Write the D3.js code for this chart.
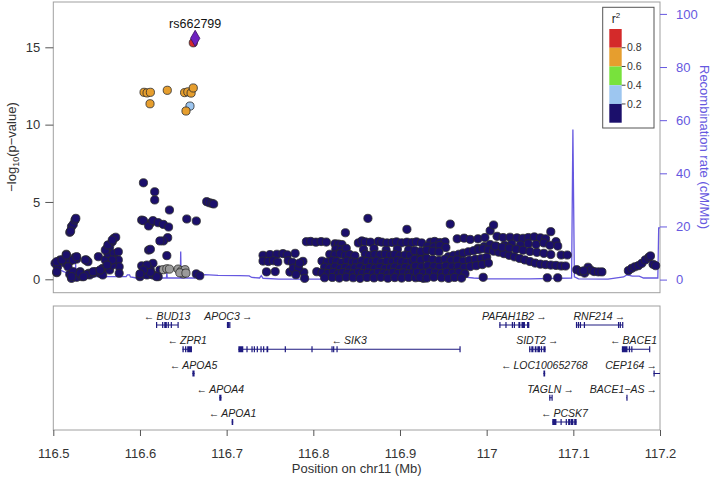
<!DOCTYPE html>
<html><head><meta charset="utf-8">
<script src="https://cdn.jsdelivr.net/npm/d3@7"></script>
<style>body{margin:0;background:#fff} svg{display:block;font-family:"Liberation Sans",Arial,Helvetica,sans-serif}</style>
</head><body><svg id="c" width="712" height="479"></svg>
<script>
// ---------- DATA ----------
const xDomain = [116.5, 117.2];
const xTicks = [116.5, 116.6, 116.7, 116.8, 116.9, 117.0, 117.1, 117.2];
const yTicks = [0, 5, 10, 15];
const recombTicks = [0, 20, 40, 60, 80, 100];
const r2Breaks = [1.0, 0.8, 0.6, 0.4, 0.2, 0.0];
const r2Colors = ["#D42A2A", "#E69E2E", "#78E23C", "#9DC6F0", "#1B0F6B"];
const r2TickLabels = [0.8, 0.6, 0.4, 0.2];

const leadName = "rs662799";
const leadPos = 116.6637;
const leadLogP = 15.58;

const redSnps = [[116.6615, 15.29]];
const orangeSnps = [[116.6047, 12.09], [116.6082, 12.05], [116.6120, 12.09], [116.6116, 11.35], [116.6315, 12.22],
  [116.6515, 12.07], [116.6552, 12.12], [116.6590, 12.04], [116.6615, 12.37], [116.6531, 10.88]];
const lightBlueSnps = [[116.6577, 11.20]];
const graySnps = [[116.627, 0.62], [116.631, 0.68], [116.634, 0.66], [116.644, 0.66], [116.648, 0.55],
  [116.652, 0.62], [116.650, 0.35], [116.646, 0.42], [116.653, 0.40]];
const navySnps = [
  // left cluster
  [116.502,1.03],[116.505,0.81],[116.504,0.43],[116.508,1.25],[116.514,1.03],[116.515,1.62],[116.519,1.16],[116.519,0.32],
  [116.521,0.06],[116.525,1.42],[116.527,1.31],[116.527,0.13],[116.531,0.49],[116.533,0.17],[116.538,1.25],[116.540,1.14],
  [116.541,0.39],[116.542,0.28],[116.546,0.39],[116.549,0.49],[116.552,1.46],[116.554,0.39],[116.557,0.71],[116.560,1.25],
  [116.562,2.00],[116.563,1.68],[116.565,2.11],[116.568,2.43],[116.570,2.65],[116.572,2.72],[116.570,1.68],[116.572,1.25],
  [116.575,1.78],[116.575,1.25],[116.576,0.81],[116.576,0.39],[116.562,0.81],[116.565,0.60],[116.557,0.28],[116.568,0.92],
  [116.519,3.04],[116.521,3.40],[116.523,3.55],[116.525,3.83],[116.526,3.94],[116.520,3.12],
  [116.504,1.14],[116.510,1.25],[116.515,1.57],[116.523,1.25],[116.527,1.46],[116.537,1.25],[116.517,0.81],[116.523,0.49],
  [116.531,0.39],[116.539,0.32],[116.546,0.49],[116.554,0.60],[116.560,1.89],[116.563,2.22],[116.568,2.54],[116.568,1.25],
  [116.562,0.92],[116.535,0.17],[116.504,0.49],[116.521,0.17],
  // around the peak
  [116.604,6.24],[116.602,3.83],[116.612,3.62],[116.617,5.66],[116.617,5.13],[116.634,4.48],[116.604,3.79],[116.610,3.45],
  [116.615,3.79],[116.621,3.66],[116.627,3.55],[116.633,3.38],[116.654,3.90],[116.665,3.77],[116.632,2.69],[116.627,2.48],
  [116.623,2.48],[116.610,1.89],[116.612,1.94],[116.631,1.53],[116.615,1.03],[116.612,0.60],[116.602,0.87],[116.608,0.92],
  [116.600,0.17],[116.608,0.28],[116.615,0.28],[116.621,0.17],[116.623,0.60],[116.619,0.17],[116.665,0.35],[116.669,0.23],
  [116.677,5.02],[116.680,4.95],[116.683,4.91],[116.685,4.87],[116.612,0.45],[116.604,0.60],[116.600,0.35],
  // middle, left group
  [116.742,1.55],[116.750,1.60],[116.758,1.62],[116.765,1.66],[116.770,1.58],[116.779,1.68],
  [116.742,1.18],[116.748,1.15],[116.754,1.20],[116.759,1.12],[116.771,1.20],[116.776,1.10],[116.788,1.16],
  [116.746,0.48],[116.756,0.50],[116.773,0.47],[116.781,0.52],[116.789,0.45],[116.790,0.06],[116.777,0.72],
  [116.783,0.75],[116.804,0.49],[116.784,1.05],[116.780,0.30],
  // middle, main block
  [116.837,3.01],[116.863,3.94],[116.908,3.23],
  [116.792,2.43],[116.797,2.45],[116.803,2.40],[116.809,2.44],[116.815,2.41],[116.825,2.30],[116.829,2.28],[116.833,2.25],
  [116.852,2.35],[116.856,2.48],[116.860,2.42],[116.866,2.40],[116.875,2.45],[116.879,2.40],[116.885,2.35],[116.891,2.38],
  [116.896,2.42],[116.902,2.36],[116.908,2.40],[116.914,2.38],[116.919,2.42],[116.925,2.35],
  [116.826,1.95],[116.832,1.90],[116.838,2.00],[116.858,1.92],[116.870,1.98],[116.884,1.88],[116.897,1.95],[116.910,1.90],
  [116.819,1.62],[116.825,1.58],[116.831,1.65],[116.837,1.55],[116.842,1.60],[116.848,1.52],[116.860,1.62],[116.865,1.55],
  [116.871,1.60],[116.877,1.58],[116.883,1.62],[116.889,1.56],[116.894,1.60],[116.900,1.52],[116.906,1.57],[116.912,1.55],
  [116.921,1.58],[116.928,1.62],
  [116.810,1.18],[116.816,1.12],[116.822,1.20],[116.827,1.15],[116.833,1.10],[116.839,1.18],[116.845,1.12],[116.850,1.08],
  [116.856,1.20],[116.862,1.15],[116.868,1.12],[116.873,1.18],[116.879,1.10],[116.885,1.16],[116.891,1.12],[116.897,1.20],
  [116.902,1.14],[116.908,1.10],[116.914,1.16],[116.923,1.22],
  [116.813,0.78],[116.819,0.72],[116.825,0.80],[116.831,0.70],[116.837,0.76],[116.842,0.68],[116.848,0.74],[116.854,0.80],
  [116.860,0.70],[116.865,0.76],[116.871,0.72],[116.877,0.78],[116.883,0.70],[116.889,0.74],[116.894,0.80],[116.900,0.72],
  [116.906,0.76],[116.912,0.70],[116.917,0.78],[116.923,0.74],
  [116.810,0.42],[116.817,0.38],[116.823,0.45],[116.829,0.36],[116.834,0.44],[116.840,0.40],[116.846,0.35],[116.852,0.46],
  [116.857,0.38],[116.863,0.42],[116.869,0.36],[116.875,0.44],[116.881,0.40],[116.886,0.35],[116.892,0.45],[116.898,0.38],
  [116.904,0.42],[116.910,0.36],[116.915,0.44],[116.921,0.40],[116.927,0.38],
  [116.813,0.10],[116.822,0.12],[116.830,0.08],[116.838,0.14],[116.846,0.10],[116.854,0.06],[116.862,0.12],[116.870,0.09],
  [116.878,0.13],[116.886,0.07],[116.894,0.11],[116.902,0.08],[116.910,0.12],[116.918,0.10],[116.927,0.06],
  // right block
  [116.958,3.57],[117.004,3.14],[117.008,3.51],[117.074,3.08],
  [116.935,2.40],[116.940,2.45],[116.946,2.38],[116.952,2.42],[116.966,2.62],[116.974,2.66],[116.981,2.58],[116.990,2.62],
  [116.998,2.70],[117.012,2.78],[117.019,2.70],[117.027,2.72],[117.035,2.68],[117.042,2.65],[117.048,2.70],[117.055,2.74],
  [117.062,2.68],[117.068,2.62],[117.080,2.43],[117.082,2.15],
  [116.932,2.15],[116.939,2.10],[116.946,2.18],[116.953,2.05],[116.990,2.00],[116.997,2.12],[117.004,2.25],[117.011,2.15],
  [117.021,2.20],[117.029,2.28],[117.039,2.22],[117.048,2.30],[117.057,2.25],[117.066,2.35],[117.073,2.20],
  [116.956,1.46],[116.962,1.55],[116.968,1.62],[116.973,1.70],[116.979,1.78],[116.985,1.85],[116.991,1.92],[116.996,1.98],
  [117.002,1.90],[117.008,1.82],[117.014,1.75],[117.020,1.66],[117.026,1.55],[117.032,1.45],[117.038,1.35],[117.044,1.25],
  [117.050,1.15],[117.056,1.05],[117.062,0.98],[117.068,0.95],[117.074,0.92],[117.080,0.90],[117.086,0.86],
  [117.010,2.15],[117.018,2.08],[117.026,2.02],[117.034,1.95],[117.042,1.88],[117.050,1.80],[117.058,1.74],[117.066,1.68],
  [117.074,1.60],[117.086,1.57],[117.093,1.57],[117.091,0.86],
  [116.917,1.85],[116.924,1.80],[116.931,1.88],[116.938,1.82],[116.945,1.78],
  [116.917,1.30],[116.924,1.25],[116.931,1.35],[116.938,1.28],[116.945,1.22],[116.952,1.30],[116.959,1.20],[116.966,1.26],
  [116.973,1.18],[116.980,1.24],[116.987,1.30],[116.994,1.36],[117.000,1.42],
  [116.918,0.85],[116.925,0.80],[116.932,0.88],[116.939,0.82],[116.946,0.78],[116.953,0.86],[116.960,0.80],[116.967,0.84],
  [116.974,0.76],[116.981,0.82],[116.988,0.88],[116.995,0.95],[117.002,1.05],
  [116.920,0.45],[116.927,0.40],[116.934,0.48],[116.941,0.42],[116.948,0.38],[116.954,0.46],[116.961,0.40],[116.968,0.44],
  [116.975,0.36],
  [116.923,0.12],[116.931,0.08],[116.939,0.14],[116.948,0.10],[116.956,0.06],[116.963,0.12],[116.971,0.08],
  [116.996,0.13],[117.070,0.10],[117.082,0.10],
  // beyond the recombination hotspot
  [117.104,0.62],[117.108,0.50],[117.113,0.40],[117.117,0.78],[117.120,0.60],[117.124,0.50],[117.129,0.48],[117.133,0.48],
  [117.112,0.55],
  [117.1635,0.56],[117.1674,0.71],[117.171,0.81],[117.175,0.88],[117.179,1.03],[117.183,1.25],[117.187,1.42],[117.189,1.51],
  [117.192,0.97],[117.195,0.88]
];

const recombRate = [
  [116.500,4.7],[116.505,4.0],[116.512,3.0],[116.519,2.2],[116.5255,1.8],[116.5258,6.0],[116.5262,1.2],[116.540,1.1],
  [116.584,1.1],[116.5855,1.8],[116.588,1.8],[116.589,1.0],[116.596,0.6],[116.6305,0.6],[116.631,2.5],[116.6315,0.6],
  [116.6465,0.6],[116.647,10.6],[116.6475,0.6],[116.667,0.6],[116.668,1.2],[116.675,1.9],[116.690,1.6],[116.715,1.5],
  [116.726,1.4],[116.729,0.8],[116.738,0.6],[116.740,1.5],[116.742,0.5],[116.760,0.2],[116.850,0.15],[116.930,0.3],
  [116.960,0.4],[116.975,0.9],[116.985,0.6],[117.000,0.3],[117.050,0.3],[117.098,0.6],[117.0995,56.5],[117.1012,1.0],
  [117.106,0.3],[117.140,0.15],[117.158,1.0],[117.162,1.8],[117.168,1.3],[117.176,1.3],[117.181,0.6],[117.1975,0.6],
  [117.1985,19.5],[117.2,19.5]
];

const genes = [
  {name:"BUD13", start:116.6185, end:116.644, strand:-1, row:0, exons:[[116.6185,116.6192],[116.6255,116.6265],[116.628,116.631],[116.632,116.633],[116.6355,116.6365],[116.6433,116.644]]},
  {name:"APOC3", start:116.7003, end:116.7035, strand:1, row:0, exons:[[116.7003,116.7009],[116.7016,116.7021],[116.703,116.7035]]},
  {name:"PAFAH1B2", start:117.0146, end:117.0492, strand:1, row:0, exons:[[117.0146,117.0152],[117.0216,117.0222],[117.029,117.0296],[117.0313,117.0319],[117.0366,117.0388],[117.0402,117.0442],[117.0466,117.0492]]},
  {name:"RNF214", start:117.103, end:117.157, strand:1, row:0, exons:[[117.103,117.1036],[117.1052,117.1058],[117.1075,117.1081],[117.1121,117.1127],[117.1515,117.1521],[117.1535,117.1545],[117.1563,117.157]]},
  {name:"ZPR1", start:116.649, end:116.660, strand:-1, row:1, exons:[[116.649,116.6505],[116.652,116.6535],[116.6545,116.660]]},
  {name:"SIK3", start:116.7135, end:116.9692, strand:-1, row:1, exons:[[116.7135,116.7192],[116.7228,116.7234],[116.7286,116.7292],[116.7313,116.7319],[116.7347,116.7353],[116.739,116.7396],[116.742,116.7426],[116.746,116.748],[116.767,116.7676],[116.7978,116.7984],[116.8209,116.8215],[116.8228,116.8234],[116.8267,116.8273],[116.9686,116.9692]]},
  {name:"SIDT2", start:117.049, end:117.068, strand:1, row:1, exons:[[117.049,117.0505],[117.0515,117.054],[117.0555,117.0575],[117.0585,117.0615],[117.0625,117.064],[117.0655,117.068]]},
  {name:"BACE1", start:117.156, end:117.188, strand:-1, row:1, exons:[[117.156,117.1625],[117.164,117.1655],[117.1668,117.1674],[117.1874,117.188]]},
  {name:"APOA5", start:116.6605, end:116.663, strand:-1, row:2, exons:[[116.6605,116.663]]},
  {name:"LOC100652768", start:117.0655, end:117.0675, strand:-1, row:2, exons:[[117.0655,117.0675]]},
  {name:"CEP164", start:117.1925, end:117.23, strand:1, row:2, exons:[[117.1925,117.1931]]},
  {name:"APOA4", start:116.6915, end:116.694, strand:-1, row:3, exons:[[116.6915,116.694]]},
  {name:"TAGLN", start:117.0722, end:117.0754, strand:1, row:3, exons:[[117.0722,117.0728],[117.0748,117.0754]]},
  {name:"BACE1\u2212AS", start:117.1612, end:117.162, strand:1, row:3, exons:[[117.1612,117.162]]},
  {name:"APOA1", start:116.7058, end:116.7076, strand:-1, row:4, exons:[[116.7058,116.7076]]},
  {name:"PCSK7", start:117.0757, end:117.1038, strand:-1, row:4, exons:[[117.0757,117.0805],[117.0852,117.0858],[117.0912,117.0918],[117.094,117.0965],[117.097,117.1],[117.101,117.1038]]}
];

// ---------- LAYOUT ----------
const svg = d3.select("#c");
const L = 53.3, R = 660, T = 2, B = 292.7;
const GT = 306, GB = 430;
const recombColor = "#6658E0";
const x = d3.scaleLinear().domain(xDomain).range([L, R]);
const y = d3.scaleLinear().domain([0, 15]).range([279.3, 47.3]);
const yr = d3.scaleLinear().domain([0, 100]).range([279.6, 13.9]);
const rowY = d3.scaleLinear().domain([0, 4]).range([325, 422]);

svg.append("defs").append("clipPath").attr("id","gclip")
  .append("rect").attr("x", L).attr("y", GT).attr("width", R - L).attr("height", GB - GT);
svg.select("defs").append("clipPath").attr("id","pclip")
  .append("rect").attr("x", L).attr("y", T).attr("width", R - L).attr("height", B - T);

// panel boxes
svg.append("rect").attr("x", L).attr("y", T).attr("width", R - L).attr("height", B - T)
  .attr("fill", "none").attr("stroke", "#a0a0a0").attr("stroke-width", 1);
svg.append("rect").attr("x", L).attr("y", GT).attr("width", R - L).attr("height", GB - GT)
  .attr("fill", "none").attr("stroke", "#a0a0a0").attr("stroke-width", 1);

// recombination line
svg.append("path").datum(recombRate).attr("clip-path","url(#pclip)")
  .attr("d", d3.line().x(d => x(d[0])).y(d => yr(d[1])))
  .attr("fill", "none").attr("stroke", recombColor).attr("stroke-width", 1.3);

// points
function drawPts(data, fill) {
  svg.append("g").selectAll("circle").data(data).join("circle")
    .attr("cx", d => x(d[0])).attr("cy", d => y(d[1])).attr("r", 4.1)
    .attr("fill", fill).attr("stroke", "#2b2b2b").attr("stroke-width", 0.8);
}
drawPts(navySnps, r2Colors[4]);
drawPts(graySnps, "#9a9a9a");
drawPts(lightBlueSnps, r2Colors[3]);
drawPts(orangeSnps, r2Colors[1]);
drawPts(redSnps, r2Colors[0]);
svg.append("path").attr("d", d3.symbol().type(d3.symbolDiamond).size(75)())
  .attr("transform", `translate(${x(leadPos)},${y(leadLogP)})`)
  .attr("fill", "#6E22C0").attr("stroke", "#3a1060").attr("stroke-width", 0.8);
svg.append("text").attr("x", x(leadPos)).attr("y", y(leadLogP) - 10).attr("text-anchor", "middle")
  .attr("font-size", 12.5).attr("fill", "#111").text(leadName);

// left axis
const ga = svg.append("g").attr("transform", `translate(${L},0)`)
  .call(d3.axisLeft(y).tickValues(yTicks).tickSize(8).tickPadding(5));
ga.select(".domain").remove();
ga.selectAll("line").attr("stroke", "#555");
ga.selectAll("text").attr("font-size", 13).attr("fill", "#333").attr("font-family", "Liberation Sans, Arial, sans-serif");
const yt = svg.append("text").attr("transform", "translate(16,147) rotate(-90)").attr("text-anchor", "middle")
  .attr("font-size", 13).attr("fill", "#333");
yt.append("tspan").text("\u2212log");
yt.append("tspan").attr("font-size", 9).attr("dy", 3).text("10");
yt.append("tspan").attr("dy", -3).text("(p\u2212value)");

// right axis
const gr = svg.append("g").attr("transform", `translate(${R},0)`)
  .call(d3.axisRight(yr).tickValues(recombTicks).tickSize(7).tickPadding(9));
gr.select(".domain").remove();
gr.selectAll("line").attr("stroke", recombColor);
gr.selectAll("text").attr("font-size", 13).attr("fill", recombColor).attr("font-family", "Liberation Sans, Arial, sans-serif");
svg.append("text").attr("transform", "translate(700,147) rotate(90)").attr("text-anchor", "middle")
  .attr("font-size", 13).attr("fill", recombColor).text("Recombination rate (cM/Mb)");

// legend
const lg = svg.append("g");
lg.append("rect").attr("x", 602.7).attr("y", 7.3).attr("width", 51.3).attr("height", 120.7)
  .attr("fill", "#fff").attr("stroke", "#555").attr("stroke-width", 1);
const lt = lg.append("text").attr("x", 616).attr("y", 23).attr("text-anchor", "middle").attr("font-size", 12).attr("fill", "#222");
lt.append("tspan").text("r");
lt.append("tspan").attr("font-size", 8).attr("dy", -5).text("2");
const ly = d3.scaleLinear().domain([1, 0]).range([29, 122.7]);
lg.selectAll("rect.bin").data(r2Colors).join("rect").attr("class", "bin")
  .attr("x", 609.3).attr("width", 12.4)
  .attr("y", (d, i) => ly(r2Breaks[i])).attr("height", (d, i) => ly(r2Breaks[i + 1]) - ly(r2Breaks[i]))
  .attr("fill", d => d).attr("stroke", "none");
lg.selectAll("line.tk").data(r2TickLabels).join("line").attr("class", "tk")
  .attr("x1", 621.7).attr("x2", 625.5).attr("y1", d => ly(d)).attr("y2", d => ly(d)).attr("stroke", "#444");
lg.selectAll("text.tl").data(r2TickLabels).join("text").attr("class", "tl")
  .attr("x", 627).attr("y", d => ly(d)).attr("dy", "0.35em").attr("font-size", 10.5).attr("fill", "#333")
  .text(d => d.toFixed(1));

// genes
const gg = svg.append("g");
const gclip = gg.append("g").attr("clip-path", "url(#gclip)");
const geneColor = "#1E1A80";
genes.forEach(g => {
  const yy = rowY(g.row);
  gclip.append("line").attr("x1", x(g.start)).attr("x2", x(g.end)).attr("y1", yy).attr("y2", yy)
    .attr("stroke", geneColor).attr("stroke-width", 1);
  gclip.selectAll(null).data(g.exons).join("rect")
    .attr("x", d => x(d[0])).attr("width", d => Math.max(1.2, x(d[1]) - x(d[0])))
    .attr("y", yy - 3).attr("height", 6).attr("fill", geneColor);
  const label = g.strand < 0 ? "\u2190\u2009" + g.name : g.name + "\u2009\u2192";
  const t = gg.append("text").attr("y", yy - 5).attr("text-anchor", "start")
    .attr("font-size", 10.5).attr("font-style", "italic").attr("fill", "#222").text(label);
  const w = t.node().getComputedTextLength();
  let cx = (x(g.start) + Math.min(x(g.end), R)) / 2 - w / 2;
  cx = Math.max(L + 3, Math.min(R - 3 - w, cx));
  t.attr("x", cx);
});

// bottom axis
const gb = svg.append("g").attr("transform", `translate(0,${GB})`)
  .call(d3.axisBottom(x).tickValues(xTicks).tickSize(6).tickPadding(13).tickFormat(d => String(+d.toFixed(1))));
gb.select(".domain").remove();
gb.selectAll("line").attr("stroke", "#555");
gb.selectAll("text").attr("font-size", 13).attr("fill", "#333").attr("font-family", "Liberation Sans, Arial, sans-serif");
svg.append("text").attr("x", (L + R) / 2).attr("y", 473).attr("text-anchor", "middle")
  .attr("font-size", 13).attr("fill", "#333").text("Position on chr11 (Mb)");
</script></body></html>
